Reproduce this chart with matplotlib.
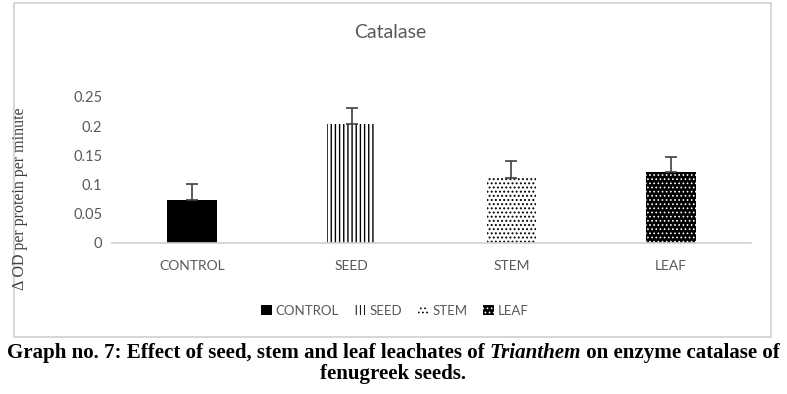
import matplotlib
matplotlib.use("Agg")
import matplotlib.pyplot as plt
from matplotlib.patches import Rectangle

# data
categories = ["CONTROL", "SEED", "STEM", "LEAF"]
means = [0.074, 0.204, 0.112, 0.121]
errors = [0.027, 0.027, 0.029, 0.027]
yticks = [0, 0.05, 0.1, 0.15, 0.2, 0.25]
ytick_labels = ["0", "0.05", "0.1", "0.15", "0.2", "0.25"]

# styling per bar: face, edge (= hatch colour), hatch, hatch line width
faces = ["black", "white", "white", "black"]
edges = ["black", "black", "black", "white"]
hatches = [None, "||||", "....", "...."]
hatch_lw = [1.0, 1.0, 0.9, 0.7]

grey = "#595959"
ui_font = ["Lato", "DejaVu Sans"]

fig = plt.figure(figsize=(7.87, 3.94), dpi=100)
ax = fig.add_axes([112 / 787, 1 - 243 / 394, (751 - 112) / 787, (243 - 97) / 394])

x = range(len(categories))
bars = []
for i in x:
    plt.rcParams["hatch.linewidth"] = hatch_lw[i]
    b = ax.bar(i, means[i], width=0.31, color=faces[i], edgecolor=edges[i],
               hatch=hatches[i], linewidth=0, label=categories[i], zorder=2)
    bars.append(b)

ax.errorbar(list(x), means, yerr=[[0] * len(errors), errors], fmt="none",
            ecolor="#404040", elinewidth=1.2, capsize=4, capthick=1.2, zorder=3)

ax.set_xlim(-0.5, 3.5)
ax.set_ylim(0, 0.25)
ax.set_yticks(yticks)
ax.set_yticklabels(ytick_labels)
ax.set_xticks(list(x))
ax.set_xticklabels(categories)
ax.tick_params(length=0, colors=grey, labelsize=10.5, pad=7)
ax.tick_params(axis="x", labelsize=10, pad=12)
for lab in ax.get_xticklabels() + ax.get_yticklabels():
    lab.set_fontfamily(ui_font)
for s in ["top", "right", "left"]:
    ax.spines[s].set_visible(False)
ax.spines["bottom"].set_color("#d0d0d0")
ax.spines["bottom"].set_linewidth(1.2)

fig.text(20 / 787, 1 - 199 / 394, "Δ OD per protein per minute", rotation=90,
         ha="center", va="center", fontsize=11.5, family="Liberation Serif",
         color="#404040")

fig.text(390 / 787, 1 - 32 / 394, "Catalase", ha="center", va="center",
         fontsize=14, color=grey, family=ui_font)

leg = fig.legend(handles=[b[0] for b in bars], labels=categories, loc="center",
                 bbox_to_anchor=(395 / 787, 1 - 311 / 394), ncol=4, frameon=False,
                 handlelength=0.8, handleheight=0.8, handletextpad=0.3,
                 columnspacing=1.2, prop={"family": ui_font, "size": 9.5})
for t in leg.get_texts():
    t.set_color(grey)

# outer chart border
fig.add_artist(Rectangle((14 / 787, 1 - 337 / 394), (771 - 14) / 787, (337 - 3) / 394,
                         transform=fig.transFigure, fill=False, edgecolor="#d0d0d0",
                         linewidth=1.2))

# caption under the chart, first line has an italic word
cap_parts = [("Graph no. 7: Effect of seed, stem and leaf leachates of ", "normal"),
             ("Trianthem", "italic"),
             (" on enzyme catalase of", "normal")]
cap_size = 15.1
fig.canvas.draw()
r = fig.canvas.get_renderer()
texts = []
for s, style in cap_parts:
    t = fig.text(0, 1 - 353 / 394, s, fontsize=cap_size, weight="bold", style=style,
                 family="Liberation Serif", va="center", ha="left")
    texts.append(t)
widths = [t.get_window_extent(r).width for t in texts]
xpos = (787 - sum(widths)) / 2
for t, w in zip(texts, widths):
    t.set_x(xpos / 787)
    xpos += w
fig.text(0.5, 1 - 374 / 394, "fenugreek seeds.", fontsize=cap_size, weight="bold",
         family="Liberation Serif", ha="center", va="center")

fig.savefig("out.png", dpi=100)
